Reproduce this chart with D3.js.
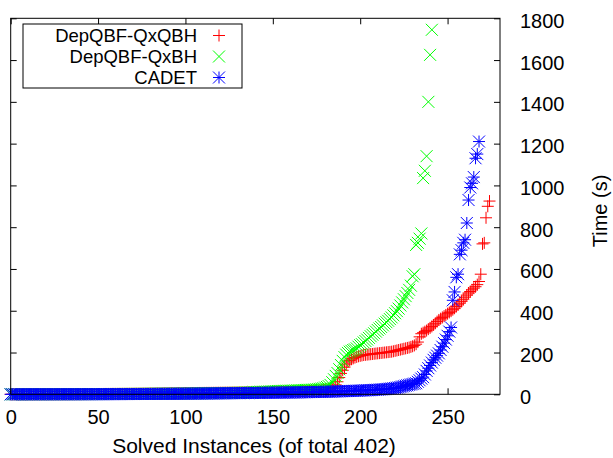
<!DOCTYPE html>
<html>
<head>
<meta charset="utf-8">
<script src="https://cdn.jsdelivr.net/npm/d3@7"></script>
<style>
    body { margin: 0; background: #fff; }
    text { font-family: "Liberation Sans", Arial, sans-serif; fill: #000; }
</style>
</head>
<body>
<div id="chart"></div>
<script>

// sorted solving times (s), one value per solved instance
let qxqbhTimes = [
    0,0,0,0,0,0,0,0,0,0,0.1,0.1,0.1,0.1,0.1,0.1,0.2,0.2,0.2,0.2,
    0.2,0.3,0.3,0.3,0.3,0.4,0.4,0.4,0.5,0.5,0.5,0.6,0.6,0.6,0.7,0.7,0.8,0.8,0.8,0.9,
    0.9,1.0,1.0,1.1,1.1,1.2,1.2,1.3,1.3,1.4,1.4,1.5,1.5,1.6,1.7,1.7,1.8,1.8,1.9,2.0,
    2.0,2.1,2.2,2.2,2.3,2.4,2.4,2.5,2.6,2.7,2.7,2.8,2.9,3.0,3.1,3.1,3.2,3.3,3.4,3.5,
    3.6,3.7,3.8,3.9,4.0,4.1,4.2,4.3,4.4,4.5,4.6,4.7,4.8,4.9,5.0,5.1,5.2,5.3,5.4,5.5,
    5.6,5.7,5.8,5.9,6.0,6.1,6.2,6.3,6.4,6.5,6.6,6.7,6.8,6.9,7.0,7.1,7.2,7.3,7.4,7.5,
    7.6,7.7,7.8,7.9,8.0,8.1,8.2,8.3,8.4,8.5,8.6,8.7,8.8,8.9,9.0,9.1,9.2,9.3,9.4,9.5,
    9.6,9.7,9.8,9.9,10.0,10.2,10.4,10.6,10.8,11.0,11.2,11.4,11.6,11.8,12.0,12.2,12.4,12.6,12.8,13.0,
    13.2,13.4,13.6,13.8,14.0,14.3,14.6,14.9,15.2,15.5,15.8,16.1,16.4,16.7,17.0,17.5,18.0,18.5,19.0,20.0,
    21,23,25,28,32,38,45,60,80,100,115,130,145,155,162,168,172,176,179,182,
    184,186,188,189,190,191,192,193,194,195,196,197,198,199,200,201,202,203,204,206,
    208,210,212,214,216,218,220,222,224,227,230,234,240,250,275,290,295,300,305,312,
    318,325,332,340,348,356,362,368,374,380,386,392,398,405,412,420,428,436,445,455,
    465,475,485,492,500,508,515,525,540,575,720,725,845,900,925
];

let qxbhTimes = [
    0,0,0,0,0,0,0,0.1,0.1,0.1,0.1,0.1,0.1,0.1,0.2,0.2,0.2,0.2,0.2,0.3,
    0.3,0.3,0.3,0.3,0.3,0.4,0.4,0.4,0.4,0.4,0.5,0.5,0.5,0.5,0.6,0.6,0.6,0.6,0.7,0.7,
    0.7,0.8,0.8,0.8,0.9,0.9,0.9,1.0,1.0,1.0,1.1,1.1,1.2,1.2,1.3,1.3,1.4,1.4,1.5,1.5,
    1.6,1.6,1.7,1.7,1.8,1.8,1.9,1.9,2.0,2.0,2.1,2.1,2.2,2.2,2.3,2.4,2.4,2.5,2.6,2.6,
    2.7,2.8,2.8,2.9,3.0,3.0,3.1,3.2,3.2,3.3,3.4,3.5,3.5,3.6,3.7,3.8,3.9,4.0,4.0,4.1,
    4.2,4.3,4.4,4.5,4.6,4.7,4.8,4.9,5.0,5.1,5.2,5.3,5.4,5.5,5.6,5.7,5.8,5.9,6.0,6.1,
    6.2,6.3,6.4,6.5,6.6,6.7,6.8,6.9,7.0,7.2,7.4,7.6,7.8,8.0,8.3,8.6,8.9,9.2,9.6,10.0,
    10.5,11.0,11.4,11.8,12.2,12.6,13.0,13.4,13.8,14.2,14.6,15.0,15.3,15.6,15.9,16.2,16.5,16.8,17.1,17.4,
    17.7,18.0,18.3,18.6,18.9,19.2,19.6,20.0,20.4,20.8,21.2,21.6,22.0,22.5,23.0,24.0,25.0,26.0,27.5,29.0,
    32,35,39,45,58,72,88,102,120,140,160,178,190,198,204,208,212,215,220,228,
    235,240,248,255,262,270,278,285,292,300,308,315,322,330,338,345,352,360,368,378,
    388,398,410,425,440,455,470,485,500,520,565,575,715,725,745,770,1035,1070,1140,1400,
    1625,1745
];

let cadetTimes = [
    0,0,0,0,0,0,0,0,0,0,0.1,0.1,0.1,0.1,0.1,0.1,0.1,0.1,0.1,0.1,
    0.1,0.1,0.1,0.1,0.1,0.2,0.2,0.2,0.2,0.2,0.2,0.2,0.2,0.2,0.3,0.3,0.3,0.3,0.3,0.3,
    0.3,0.4,0.4,0.4,0.4,0.4,0.5,0.5,0.5,0.5,0.6,0.6,0.6,0.6,0.7,0.7,0.7,0.8,0.8,0.8,
    0.9,0.9,0.9,1.0,1.0,1.0,1.1,1.1,1.2,1.2,1.2,1.3,1.3,1.4,1.4,1.5,1.5,1.6,1.6,1.7,
    1.7,1.8,1.8,1.9,1.9,2.0,2.0,2.1,2.1,2.2,2.3,2.3,2.4,2.4,2.5,2.6,2.6,2.7,2.8,2.8,
    2.9,3.0,3.0,3.1,3.2,3.3,3.3,3.4,3.5,3.6,3.7,3.7,3.8,3.9,4.0,4.1,4.2,4.3,4.4,4.5,
    4.6,4.7,4.8,4.9,5.0,5.1,5.2,5.3,5.4,5.5,5.6,5.7,5.8,5.9,6.0,6.1,6.2,6.3,6.4,6.5,
    6.6,6.7,6.8,6.9,7.0,7.1,7.2,7.3,7.4,7.5,7.6,7.7,7.8,7.9,8.0,8.1,8.2,8.3,8.4,8.5,
    8.6,8.7,8.8,8.9,9.0,9.2,9.4,9.6,9.8,10.0,10.2,10.4,10.6,10.8,11.0,11.2,11.4,11.6,11.8,12.0,
    12.2,12.4,12.6,12.8,13.0,13.3,13.6,13.9,14.2,14.5,14.8,15.1,15.4,15.7,16.0,16.3,16.6,16.9,17.2,17.5,
    17.8,18.1,18.4,18.8,19.2,19.6,20.0,20.5,21.0,21.5,22.0,22.6,23.2,23.8,24.5,25.2,26.0,27.0,28.0,29.0,
    30.0,31.5,33,35,37,39,41,43,45,47,49,51,53,60,67,75,82,95,112,125,
    138,152,165,175,185,196,212,228,245,262,280,300,320,450,490,560,575,670,690,725,
    740,820,930,990,1010,1040,1130,1150,1210
];

let seriesNames = ["DepQBF-QxQBH", "DepQBF-QxBH", "CADET"];
let seriesColors = ["#ff0000", "#00ff00", "#0000ff"];
let seriesSymbols = ["plus", "cross", "star"];

let xTicks = [0, 50, 100, 150, 200, 250];
let yTicks = [0, 200, 400, 600, 800, 1000, 1200, 1400, 1600, 1800];

let width = 613, height = 458;
let plot = {left: 10.7, right: 500, top: 18.3, bottom: 394.3};

let svg = d3.select("#chart")
            .append("svg")
                .attr("width", width)
                .attr("height", height)
                .style("background", "#fff");

let x = d3.scaleLinear().domain([0, 280]).range([plot.left, plot.right]);
let y = d3.scaleLinear().domain([0, 1800]).range([plot.bottom, plot.top]);

// point shapes, half size 6px
let half = 6;
let shapes = {
    plus: "M" + (-half) + ",0H" + half + "M0," + (-half) + "V" + half,
    cross: "M" + (-half) + "," + (-half) + "L" + half + "," + half + "M" + (-half) + "," + half + "L" + half + "," + (-half),
};
shapes.star = shapes.plus + shapes.cross;

// axes, ticks point inward on all four sides
function styleAxis(g) {
    g.select(".domain").remove();
    g.selectAll(".tick line").attr("stroke", "#000").attr("stroke-width", 1);
    g.selectAll(".tick text").style("font-size", "20px").attr("fill", "#000");
}

svg.append("g")
    .attr("transform", "translate(0," + plot.bottom + ")")
    .call(d3.axisBottom(x).tickValues(xTicks).tickSize(-6).tickPadding(15.5).tickFormat(d3.format("d")))
    .call(styleAxis);

svg.append("g")
    .attr("transform", "translate(0," + plot.top + ")")
    .call(d3.axisTop(x).tickValues(xTicks).tickSize(-6).tickFormat(""))
    .call(styleAxis);

svg.append("g")
    .attr("transform", "translate(" + plot.left + ",0)")
    .call(d3.axisLeft(y).tickValues(yTicks).tickSize(-6).tickFormat(""))
    .call(styleAxis);

let rightAxis = svg.append("g")
    .attr("transform", "translate(" + plot.right + ",0)")
    .call(d3.axisRight(y).tickValues(yTicks).tickSize(-6).tickPadding(20).tickFormat(d3.format("d")))
    .call(styleAxis);
rightAxis.selectAll(".tick text").attr("dy", "0.45em");

let series = [qxqbhTimes, qxbhTimes, cadetTimes];

series.forEach((times, s) => {
    svg.append("g")
        .attr("class", "series")
        .selectAll("path")
        .data(times)
        .enter()
        .append("path")
            .attr("d", shapes[seriesSymbols[s]])
            .attr("transform", (d, i) => "translate(" + x(i) + "," + y(d) + ")")
            .attr("fill", "none")
            .attr("stroke", seriesColors[s])
            .attr("stroke-width", 1);
});

// border drawn above the points
svg.append("rect")
    .attr("x", plot.left)
    .attr("y", plot.top)
    .attr("width", plot.right - plot.left)
    .attr("height", plot.bottom - plot.top)
    .attr("fill", "none")
    .attr("stroke", "#000")
    .attr("stroke-width", 1);

// axis titles
svg.append("text")
    .attr("x", 254)
    .attr("y", 453)
    .attr("text-anchor", "middle")
    .style("font-size", "21px")
    .text("Solved Instances (of total 402)");

svg.append("text")
    .attr("transform", "translate(607,211) rotate(-90)")
    .attr("text-anchor", "middle")
    .style("font-size", "20px")
    .text("Time (s)");

// key
let legend = svg.append("g").attr("id", "legend");
legend.append("rect")
    .attr("x", 23)
    .attr("y", 24)
    .attr("width", 219)
    .attr("height", 64)
    .attr("fill", "#fff")
    .attr("stroke", "#000")
    .attr("stroke-width", 1);

seriesNames.forEach((name, s) => {
    let rowY = 35.5 + s * 21;
    legend.append("text")
        .attr("x", 197)
        .attr("y", rowY + 6.5)
        .attr("text-anchor", "end")
        .style("font-size", "18.5px")
        .text(name);
    legend.append("path")
        .attr("d", shapes[seriesSymbols[s]])
        .attr("transform", "translate(219," + rowY + ")")
        .attr("fill", "none")
        .attr("stroke", seriesColors[s])
        .attr("stroke-width", 1);
});

</script>
</body>
</html>
